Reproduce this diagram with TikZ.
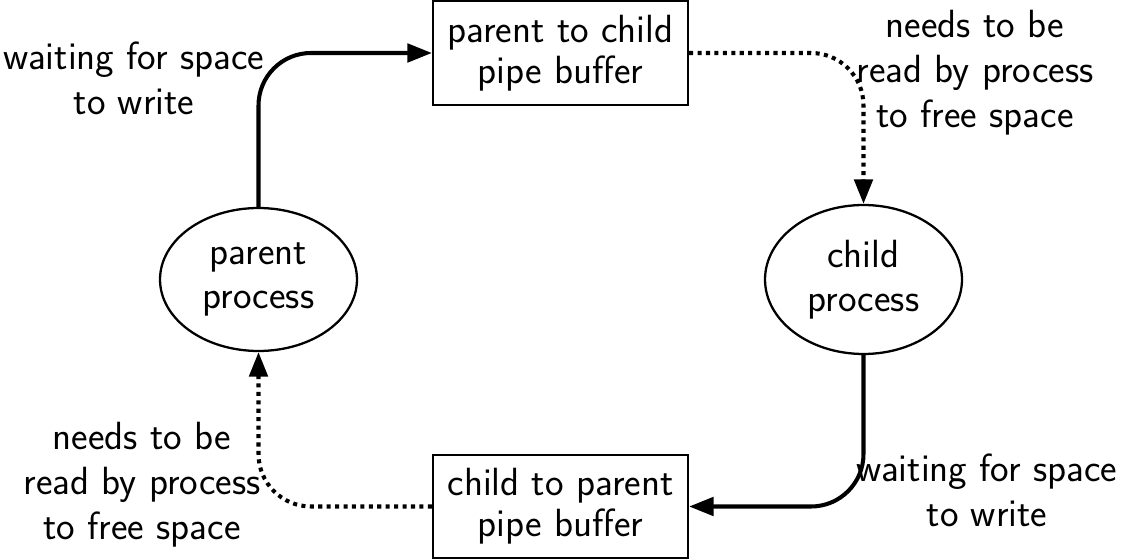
\documentclass[tikz,border=0pt]{standalone}
\usetikzlibrary{arrows.meta,shapes.geometric}
\begin{document}
\begin{tikzpicture}[x=0.02cm,y=-0.02cm,
  every node/.style={font=\sffamily\fontsize{22.4}{25.6}\selectfont, align=center},
  buffer/.style={draw, line width=1.3pt, inner sep=0pt, minimum width=5.1cm,
                 minimum height=2.07cm, font=\sffamily\fontsize{22.4}{23.5}\selectfont},
  proc/.style={draw, ellipse, line width=1.3pt, inner sep=0pt, minimum width=3.94cm,
               font=\sffamily\fontsize{22.4}{25}\selectfont},
  note/.style={inner sep=0pt},
  flow/.style={line width=2.3pt, rounded corners=1.05cm,
               -{Triangle[length=14pt,width=10.5pt]}},
  solidflow/.style={flow},
  dottedflow/.style={flow, dash pattern=on 2.3pt off 2.5pt}]
  \useasboundingbox (0,0) rectangle (1122,560);

  % processes and pipe buffers
  \node[buffer] (p2c) at (560.5,53) {parent to child\\pipe buffer};
  \node[buffer] (c2p) at (560.5,506.5) {child to parent\\pipe buffer};
  \node[proc, minimum height=2.86cm] (parent) at (258.5,279.5) {parent\\process};
  \node[proc, minimum height=2.98cm] (child) at (863.5,279.5) {child\\process};

  % connectors
  \draw[solidflow] (parent.north) |- (p2c.west);
  \draw[dottedflow] (p2c.east) -| (child.north);
  \draw[solidflow] (child.south) |- (c2p.east);
  \draw[dottedflow] (c2p.west) -| (parent.south);

  % annotations
  \node[note] (wtop) at (134,78) {waiting for space\\to write};
  \node[note] (rtop) at (975,73) {needs to be\\read by process\\to free space};
  \node[note] (rbot) at (142,485) {needs to be\\read by process\\to free space};
  \node[note] (wbot) at (987,490) {waiting for space\\to write};
\end{tikzpicture}
\end{document}
